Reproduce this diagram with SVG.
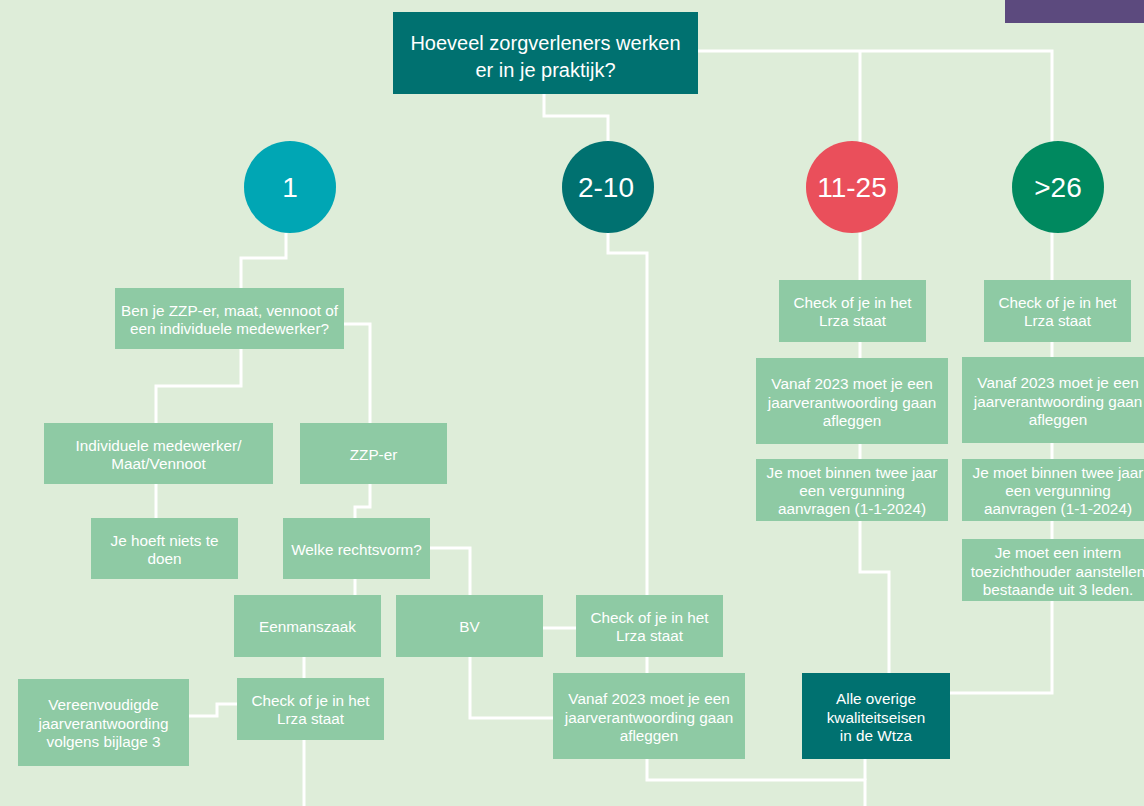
<svg xmlns="http://www.w3.org/2000/svg" width="1144" height="806" viewBox="0 0 1144 806">
<style>
.bg{fill:#deedd9}
.box{fill:#8ecaa4}
.dark{fill:#007170}
.c{fill:none;stroke:#ffffff;stroke-width:3}
text{font-family:"Liberation Sans",Arial,sans-serif;fill:#ffffff;text-anchor:middle}
.t{font-size:15.3px}
.h{font-size:20px}
.n{font-size:28px}
</style>
<rect class="bg" x="0" y="0" width="1144" height="806"/>
<rect x="1005" y="0" width="139" height="23" fill="#5c4a7e"/>
<g id="connectors">
<path class="c" d="M698,51 H1052 V693 H950"/>
<path class="c" d="M860,51 V572 H889 V673"/>
<path class="c" d="M544,94 V116 H608 V253 H647 V673"/>
<path class="c" d="M647,759 V780 H865 V806"/>
<path class="c" d="M865,759 V780"/>
<path class="c" d="M286,233 V258 H241 V288"/>
<path class="c" d="M344,324 H370 V423"/>
<path class="c" d="M241,349 V386 H156 V423"/>
<path class="c" d="M156,484 V518"/>
<path class="c" d="M370,484 V507 H355 V518"/>
<path class="c" d="M430,548 H470 V595"/>
<path class="c" d="M355,579 V595"/>
<path class="c" d="M304,657 V806"/>
<path class="c" d="M237,704 H217 V716 H189"/>
<path class="c" d="M470,657 V718 H553"/>
<path class="c" d="M543,628 H576"/>
</g>
<g id="title">
<rect class="dark" x="393" y="12" width="305" height="82"/>
<text class="h" x="545.5" y="50">Hoeveel zorgverleners werken</text>
<text class="h" x="545.5" y="77">er in je praktijk?</text>
</g>
<g id="c1"><circle cx="290" cy="187" r="46" fill="#00a6b4"/><text class="n" x="290" y="197">1</text></g>
<g id="c2-10"><circle cx="608" cy="187" r="46" fill="#007170"/><text class="n" x="606" y="197">2-10</text></g>
<g id="c11-25"><circle cx="852" cy="187" r="46" fill="#ea4f5b"/><text class="n" x="852" y="197">11-25</text></g>
<g id="c26"><circle cx="1058" cy="187" r="46" fill="#00895f"/><text class="n" x="1058" y="197">&gt;26</text></g>
<g id="benje">
<rect class="box" x="115" y="288" width="229" height="61"/>
<text class="t" x="229.5" y="316">Ben je ZZP-er, maat, vennoot of</text>
<text class="t" x="229.5" y="334">een individuele medewerker?</text>
</g>
<g id="individueel">
<rect class="box" x="44" y="423" width="229" height="61"/>
<text class="t" x="158.5" y="451">Individuele medewerker/</text>
<text class="t" x="158.5" y="469">Maat/Vennoot</text>
</g>
<g id="zzp">
<rect class="box" x="300" y="423" width="147" height="61"/>
<text class="t" x="373.5" y="460">ZZP-er</text>
</g>
<g id="niets">
<rect class="box" x="91" y="518" width="147" height="61"/>
<text class="t" x="164.5" y="546">Je hoeft niets te</text>
<text class="t" x="164.5" y="564">doen</text>
</g>
<g id="rechtsvorm">
<rect class="box" x="283" y="518" width="147" height="61"/>
<text class="t" x="356.5" y="555">Welke rechtsvorm?</text>
</g>
<g id="eenmanszaak">
<rect class="box" x="234" y="595" width="147" height="62"/>
<text class="t" x="307.5" y="632">Eenmanszaak</text>
</g>
<g id="bv">
<rect class="box" x="396" y="595" width="147" height="62"/>
<text class="t" x="469.5" y="632">BV</text>
</g>
<g id="check-een">
<rect class="box" x="237" y="678" width="147" height="62"/>
<text class="t" x="310.5" y="706">Check of je in het</text>
<text class="t" x="310.5" y="724">Lrza staat</text>
</g>
<g id="vereenvoudigd">
<rect class="box" x="18" y="679" width="171" height="87"/>
<text class="t" x="103.5" y="710">Vereenvoudigde</text>
<text class="t" x="103.5" y="728.5">jaarverantwoording</text>
<text class="t" x="103.5" y="747">volgens bijlage 3</text>
</g>
<g id="check-bv">
<rect class="box" x="576" y="595" width="147" height="62"/>
<text class="t" x="649.5" y="623">Check of je in het</text>
<text class="t" x="649.5" y="641">Lrza staat</text>
</g>
<g id="vanaf-bv">
<rect class="box" x="553" y="673" width="192" height="86"/>
<text class="t" x="649" y="704">Vanaf 2023 moet je een</text>
<text class="t" x="649" y="722.5">jaarverantwoording gaan</text>
<text class="t" x="649" y="741">afleggen</text>
</g>
<g id="alle">
<rect class="dark" x="802" y="673" width="148" height="86"/>
<text class="t" x="876" y="704">Alle overige</text>
<text class="t" x="876" y="722.5">kwaliteitseisen</text>
<text class="t" x="876" y="741">in de Wtza</text>
</g>
<g id="check-11">
<rect class="box" x="779" y="280" width="147" height="62"/>
<text class="t" x="852.5" y="308">Check of je in het</text>
<text class="t" x="852.5" y="326">Lrza staat</text>
</g>
<g id="vanaf-11">
<rect class="box" x="756" y="358" width="192" height="86"/>
<text class="t" x="852" y="389">Vanaf 2023 moet je een</text>
<text class="t" x="852" y="407.5">jaarverantwoording gaan</text>
<text class="t" x="852" y="426">afleggen</text>
</g>
<g id="vergunning-11">
<rect class="box" x="756" y="459" width="192" height="62"/>
<text class="t" x="852" y="478">Je moet binnen twee jaar</text>
<text class="t" x="852" y="496">een vergunning</text>
<text class="t" x="852" y="514">aanvragen (1-1-2024)</text>
</g>
<g id="check-26">
<rect class="box" x="984" y="280" width="147" height="62"/>
<text class="t" x="1057.5" y="308">Check of je in het</text>
<text class="t" x="1057.5" y="326">Lrza staat</text>
</g>
<g id="vanaf-26">
<rect class="box" x="962" y="357" width="192" height="86"/>
<text class="t" x="1058" y="388">Vanaf 2023 moet je een</text>
<text class="t" x="1058" y="406.5">jaarverantwoording gaan</text>
<text class="t" x="1058" y="425">afleggen</text>
</g>
<g id="vergunning-26">
<rect class="box" x="962" y="459" width="192" height="62"/>
<text class="t" x="1058" y="478">Je moet binnen twee jaar</text>
<text class="t" x="1058" y="496">een vergunning</text>
<text class="t" x="1058" y="514">aanvragen (1-1-2024)</text>
</g>
<g id="toezicht-26">
<rect class="box" x="962" y="539" width="192" height="62"/>
<text class="t" x="1058" y="558">Je moet een intern</text>
<text class="t" x="1058" y="576.5">toezichthouder aanstellen</text>
<text class="t" x="1058" y="595">bestaande uit 3 leden.</text>
</g>
</svg>
